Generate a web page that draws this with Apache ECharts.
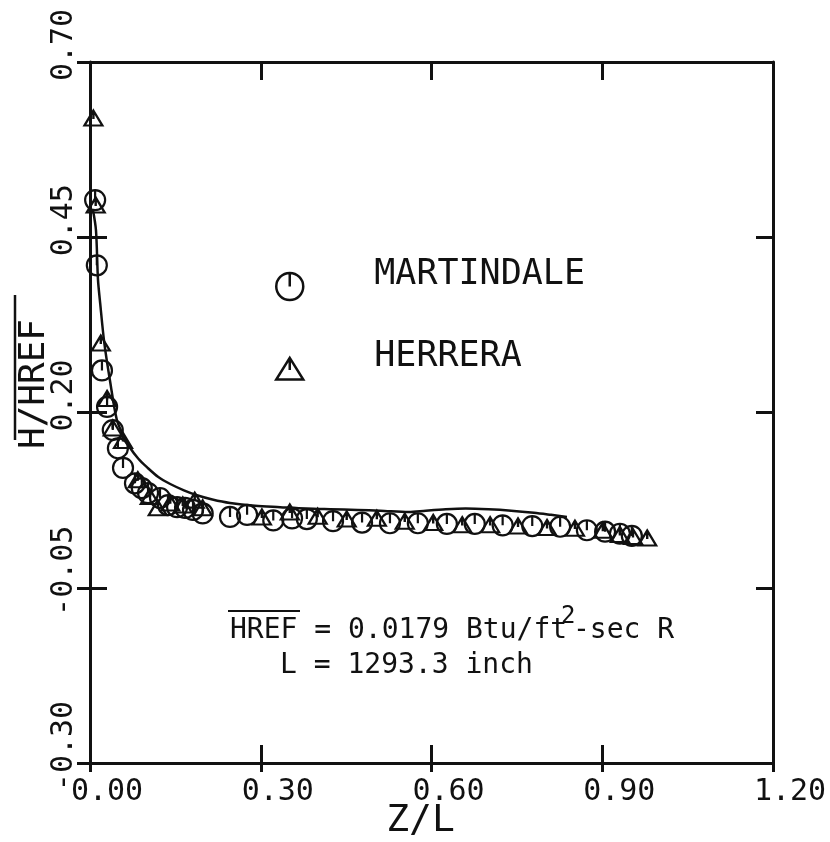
<!DOCTYPE html>
<html>
<head>
<meta charset="utf-8">
<script src="https://cdn.jsdelivr.net/npm/echarts@6/dist/echarts.min.js"></script>
<style>
  html, body { margin: 0; padding: 0; background: #fff; }
  #chart { width: 830px; height: 842px; }
</style>
</head>
<body>
<div id="chart"></div>
<script>
// Axis ranges and tick spacing
const xTicks = { min: 0, max: 1.2, step: 0.3 };
const yTicks = { min: -0.30, max: 0.70, step: 0.25 };

// Martindale measurements (Z/L, H/HREF)
const martindaleX = [0.009, 0.012, 0.021, 0.030, 0.040, 0.049, 0.058, 0.079, 0.091, 0.102,
  0.123, 0.137, 0.153, 0.167, 0.181, 0.198, 0.246, 0.276, 0.322, 0.355,
  0.381, 0.427, 0.478, 0.527, 0.576, 0.627, 0.676, 0.725, 0.777, 0.826,
  0.873, 0.905, 0.931, 0.952];
const martindaleY = [0.503, 0.410, 0.260, 0.208, 0.175, 0.149, 0.121, 0.099, 0.092, 0.085,
  0.078, 0.068, 0.065, 0.064, 0.061, 0.056, 0.051, 0.054, 0.046, 0.049,
  0.048, 0.045, 0.043, 0.042, 0.042, 0.041, 0.041, 0.039, 0.038, 0.037,
  0.032, 0.030, 0.027, 0.024];

// Herrera measurements (Z/L, H/HREF)
const herreraX = [0.006, 0.010, 0.019, 0.030, 0.040, 0.058, 0.084, 0.105, 0.119, 0.141,
  0.163, 0.184, 0.198, 0.302, 0.351, 0.400, 0.451, 0.504, 0.553, 0.603,
  0.654, 0.703, 0.752, 0.803, 0.852, 0.901, 0.931, 0.954, 0.979];
const herreraY = [0.620, 0.496, 0.299, 0.220, 0.178, 0.160, 0.104, 0.080, 0.064, 0.071,
  0.068, 0.075, 0.064, 0.051, 0.058, 0.052, 0.048, 0.049, 0.045, 0.043,
  0.040, 0.040, 0.038, 0.036, 0.035, 0.032, 0.026, 0.023, 0.021];

// Predicted distribution (solid curve)
const curveX = [0.005, 0.0105, 0.014, 0.018, 0.025, 0.035, 0.047, 0.058, 0.070, 0.085,
  0.100, 0.120, 0.141, 0.165, 0.188, 0.215, 0.246, 0.290, 0.334, 0.380,
  0.422, 0.470, 0.510, 0.560, 0.590, 0.625, 0.660, 0.700, 0.740, 0.780,
  0.810, 0.838];
const curveY = [0.490, 0.460, 0.390, 0.355, 0.300, 0.246, 0.190, 0.168, 0.150, 0.134,
  0.122, 0.108, 0.098, 0.089, 0.082, 0.076, 0.071, 0.067, 0.065, 0.063,
  0.062, 0.061, 0.060, 0.058, 0.060, 0.062, 0.063, 0.062, 0.060, 0.057,
  0.054, 0.051];

const seriesNames = ['MARTINDALE', 'HERRERA'];

const FONT = 'DejaVu Sans Mono';
const INK = '#111';

// Plotter-style symbols: circle / triangle with a small vertical stroke
const CIRCLE_TICK = 'path://M10,0 A10,10 0 1,1 10,20 A10,10 0 1,1 10,0 Z M10,0 L10,10';
const TRI_TICK = 'path://M10,0 L20,16 L0,16 Z M10,0 L10,9';

const pairs = (xs, ys) => xs.map((x, i) => [x, ys[i]]);
const fmt = v => Number(v).toFixed(2);

const lineStyle = { color: INK, width: 3 };

function xAxisBase(extra) {
  return Object.assign({
    type: 'value', min: xTicks.min, max: xTicks.max, interval: xTicks.step,
    splitLine: { show: false },
    axisLabel: { show: false },
    axisLine: { show: true, onZero: false, lineStyle: lineStyle },
    axisTick: { show: true, inside: true, length: 18, lineStyle: lineStyle }
  }, extra);
}
function yAxisBase(extra) {
  return Object.assign({
    type: 'value', min: yTicks.min, max: yTicks.max, interval: yTicks.step,
    splitLine: { show: false },
    axisLabel: { show: false },
    axisLine: { show: true, onZero: false, lineStyle: lineStyle },
    axisTick: { show: true, inside: true, length: 17, lineStyle: lineStyle }
  }, extra);
}

const chart = echarts.init(document.getElementById('chart'), null, { renderer: 'canvas' });

chart.setOption({
  backgroundColor: '#fff',
  animation: false,
  grid: { left: 90, right: 57, top: 62, bottom: 79, containLabel: false, outerBoundsMode: 'none' },
  legend: {
    orient: 'vertical', left: 275, top: 257, padding: 0,
    itemWidth: 27, itemHeight: 27, itemGap: 38,
    data: [
      { name: seriesNames[0], icon: CIRCLE_TICK },
      { name: seriesNames[1], icon: TRI_TICK }
    ],
    formatter: '{n|{name}}',
    itemStyle: { color: 'transparent', borderColor: INK, borderWidth: 2.5, opacity: 1 },
    textStyle: {
      fontFamily: FONT, fontSize: 35, color: INK,
      rich: { n: { fontFamily: FONT, fontSize: 35, color: INK, padding: [0, 0, 24, 66] } }
    }
  },
  xAxis: [
    xAxisBase({
      position: 'bottom',
      axisTick: { show: true, inside: false, length: 9, lineStyle: lineStyle },
      axisLabel: {
        show: true, margin: 14, fontFamily: FONT, fontSize: 30, color: INK,
        padding: [0, 0, 0, 34], formatter: fmt, showMinLabel: true, showMaxLabel: true
      },
      name: 'Z/L', nameLocation: 'middle', nameGap: 39, nameMoveOverlap: false,
      nameTextStyle: { fontFamily: FONT, fontSize: 38, color: INK, padding: [0, 22, 0, 0] }
    }),
    xAxisBase({ position: 'top' }),
    xAxisBase({ position: 'bottom', axisLine: { show: false, onZero: false } })
  ],
  yAxis: [
    yAxisBase({
      position: 'left',
      axisTick: { show: true, inside: false, length: 13, lineStyle: lineStyle },
      axisLabel: {
        show: true, rotate: 90, margin: 11, fontFamily: FONT, fontSize: 30, color: INK,
        padding: [0, 0, 0, 34], formatter: fmt, showMinLabel: true, showMaxLabel: true
      },
      name: 'H/HREF', nameLocation: 'middle', nameRotate: 90, nameGap: 37, nameMoveOverlap: false,
      nameTextStyle: { fontFamily: FONT, fontSize: 36, color: INK, padding: [0, 0, 0, 57] }
    }),
    yAxisBase({ position: 'right' }),
    yAxisBase({ position: 'left', axisLine: { show: false, onZero: false } })
  ],
  series: [
    {
      name: 'Prediction', type: 'line', data: pairs(curveX, curveY),
      showSymbol: false, smooth: 0.3, z: 1,
      lineStyle: { color: INK, width: 2.5 }
    },
    {
      name: seriesNames[0], type: 'scatter', data: pairs(martindaleX, martindaleY),
      symbol: CIRCLE_TICK, symbolSize: [20, 20], z: 3,
      itemStyle: { color: 'transparent', borderColor: INK, borderWidth: 2.2, opacity: 1 }
    },
    {
      name: seriesNames[1], type: 'scatter', data: pairs(herreraX, herreraY),
      symbol: TRI_TICK, symbolSize: [18, 15], z: 3,
      itemStyle: { color: 'transparent', borderColor: INK, borderWidth: 2.2, opacity: 1 }
    }
  ],
  graphic: [
    // overline of the y-axis title
    { type: 'line', shape: { x1: 15, y1: 295, x2: 15, y2: 440 }, style: { stroke: INK, lineWidth: 2.5 } },
    // reference values
    { type: 'line', shape: { x1: 228, y1: 611, x2: 300, y2: 611 }, style: { stroke: INK, lineWidth: 2 } },
    { type: 'text', left: 230, top: 617, style: { text: 'HREF = 0.0179 Btu/ft', font: '28px "' + FONT + '"', fill: INK } },
    { type: 'text', left: 561, top: 605, style: { text: '2', font: '24px "' + FONT + '"', fill: INK } },
    { type: 'text', left: 573, top: 617, style: { text: '-sec R', font: '28px "' + FONT + '"', fill: INK } },
    { type: 'text', left: 280, top: 652, style: { text: 'L = 1293.3 inch', font: '28px "' + FONT + '"', fill: INK } }
  ]
});
</script>
</body>
</html>
